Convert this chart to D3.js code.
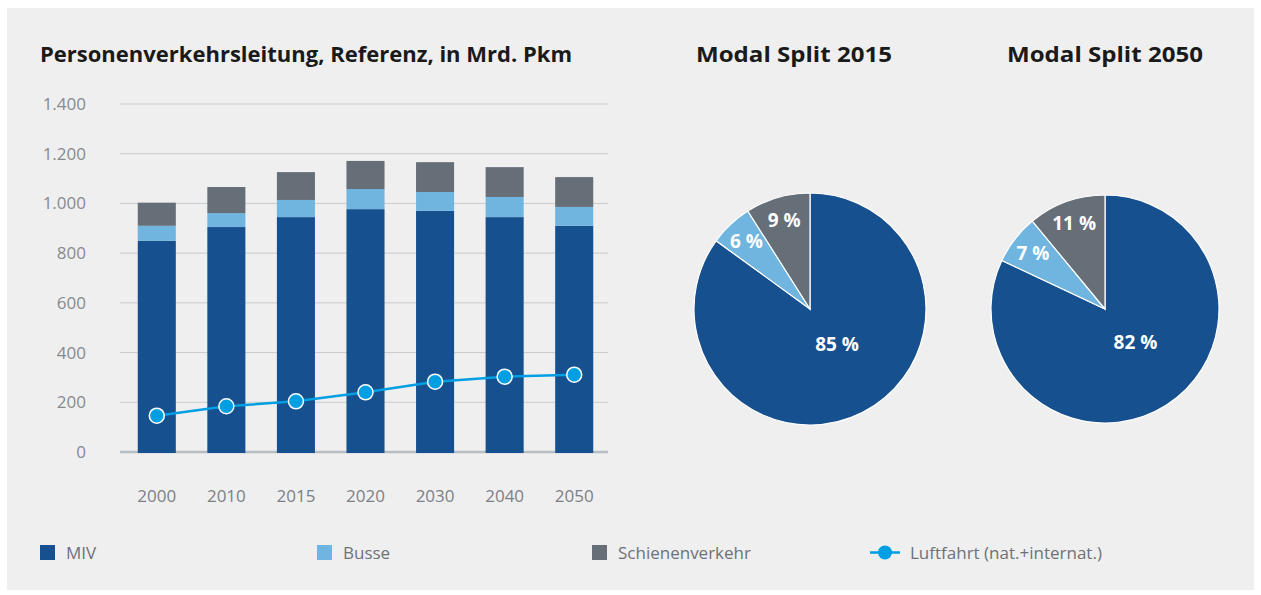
<!DOCTYPE html>
<html>
<head>
<meta charset="utf-8">
<script src="https://cdn.jsdelivr.net/npm/d3@7"></script>
<style>
  body { margin: 0; background: #ffffff; }
  svg text { font-family: "Open Sans", "Noto Sans", sans-serif; }
</style>
</head>
<body>
<div id="chart"></div>
<script>

    const WIDTH = 1261;
    const HEIGHT = 595;

    // data
    const years = ["2000", "2010", "2015", "2020", "2030", "2040", "2050"];
    const miv = [850, 905, 945, 977, 970, 945, 910];
    const busse = [60, 56, 69, 81, 76, 81, 76];
    const schiene = [93, 105, 112, 113, 120, 120, 120];
    const luftfahrt = [146, 184, 204, 240, 283, 303, 311];
    const yTicks = [0, 200, 400, 600, 800, 1000, 1200, 1400];

    const pieCategories = ["MIV", "Busse", "Schienenverkehr"];
    const split2015 = [85, 6, 9];
    const split2050 = [82, 7, 11];

    const seriesNames = ["MIV", "Busse", "Schienenverkehr", "Luftfahrt (nat.+internat.)"];
    const COLOR = ["#16508f", "#6fb5e0", "#666e78", "#009fe3"];

    const svg = d3.select("#chart").append("svg")
        .attr("width", WIDTH)
        .attr("height", HEIGHT);

    // grey panel
    svg.append("rect")
        .attr("x", 7).attr("y", 8)
        .attr("width", 1247).attr("height", 582)
        .attr("fill", "#efefef");

    // titles
    svg.append("text")
        .attr("x", 40).attr("y", 62)
        .attr("font-size", 21).attr("font-weight", 700)
        .attr("fill", "#1a1a1a")
        .attr("textLength", 532).attr("lengthAdjust", "spacingAndGlyphs")
        .text("Personenverkehrsleitung, Referenz, in Mrd. Pkm");

    // ---- bar chart ----
    const x = d3.scaleBand()
        .domain(years)
        .range([122, 609])
        .paddingInner(0.453)
        .paddingOuter(0.2265);

    const y = d3.scaleLinear()
        .domain([0, 1400])
        .range([452, 104]);

    // gridlines
    yTicks.forEach(function(t) {
        svg.append("line")
            .attr("x1", 120).attr("x2", 608)
            .attr("y1", y(t)).attr("y2", y(t))
            .attr("stroke", t === 0 ? "#b9bcc0" : "#c9cbce")
            .attr("stroke-width", t === 0 ? 2.5 : 1);
        svg.append("text")
            .attr("x", 86).attr("y", y(t) + 6)
            .attr("text-anchor", "end")
            .attr("font-size", 17)
            .attr("fill", "#868a90")
            .text(d3.format(",")(t).replace(/,/g, "."));
    });

    // stacked bars
    const rows = years.map(function(yr, i) {
        return { year: yr, MIV: miv[i], Busse: busse[i], Schienenverkehr: schiene[i] };
    });
    const stack = d3.stack().keys(pieCategories)(rows);

    stack.forEach(function(layer, k) {
        svg.append("g").selectAll("rect")
            .data(layer)
            .join("rect")
            .attr("x", function(d) { return x(d.data.year); })
            .attr("width", x.bandwidth())
            .attr("y", function(d) { return y(d[1]); })
            .attr("height", function(d) { return y(d[0]) - y(d[1]) + (k === 0 ? 1 : 0); })
            .attr("fill", COLOR[k]);
    });

    // year labels
    years.forEach(function(yr) {
        svg.append("text")
            .attr("x", x(yr) + x.bandwidth() / 2)
            .attr("y", 502)
            .attr("text-anchor", "middle")
            .attr("font-size", 17)
            .attr("fill", "#7c8087")
            .text(yr);
    });

    // Luftfahrt line
    const line = d3.line()
        .x(function(d, i) { return x(years[i]) + x.bandwidth() / 2; })
        .y(function(d) { return y(d); });

    svg.append("path")
        .datum(luftfahrt)
        .attr("d", line)
        .attr("fill", "none")
        .attr("stroke", COLOR[3])
        .attr("stroke-width", 2.5);

    svg.append("g").selectAll("circle")
        .data(luftfahrt)
        .join("circle")
        .attr("cx", function(d, i) { return x(years[i]) + x.bandwidth() / 2; })
        .attr("cy", function(d) { return y(d); })
        .attr("r", 7.5)
        .attr("fill", COLOR[3])
        .attr("stroke", "#ffffff")
        .attr("stroke-width", 1.5);

    // ---- pies ----
    const pie = d3.pie().sort(null).value(function(d) { return d; });

    function drawPie(values, cx, cy, R, titleX, title) {
        const arc = d3.arc().innerRadius(0).outerRadius(R);
        const labelArc = d3.arc().innerRadius(R * 0.6).outerRadius(R * 1.0);
        const bigLabelArc = d3.arc().innerRadius(0).outerRadius(R * 0.8);

        svg.append("text")
            .attr("x", titleX).attr("y", 62)
            .attr("text-anchor", "middle")
            .attr("font-size", 21).attr("font-weight", 700)
            .attr("fill", "#1a1a1a")
            .attr("textLength", 196).attr("lengthAdjust", "spacingAndGlyphs")
            .text(title);

        const g = svg.append("g").attr("transform", "translate(" + cx + "," + cy + ")");
        const arcs = pie(values);

        g.selectAll("path")
            .data(arcs)
            .join("path")
            .attr("d", arc)
            .attr("fill", function(d, i) { return COLOR[i]; })
            .attr("stroke", "#ffffff")
            .attr("stroke-width", 1.2);

        g.selectAll("text")
            .data(arcs)
            .join("text")
            .attr("transform", function(d, i) {
                const c = i === 0 ? bigLabelArc.centroid(d) : labelArc.centroid(d);
                const dx = i === 0 ? 6 : 0;
                const dy = i === 0 ? 1 : 7;
                return "translate(" + (c[0] + dx) + "," + (c[1] + dy) + ")";
            })
            .attr("text-anchor", "middle")
            .attr("font-size", 19).attr("font-weight", 700)
            .attr("fill", "#ffffff")
            .text(function(d) { return d.data + " %"; });
    }

    drawPie(split2015, 810, 309, 116, 794, "Modal Split 2015");
    drawPie(split2050, 1105, 309, 114, 1105, "Modal Split 2050");

    // ---- legend ----
    const legendX = [40, 317, 592, 870];
    seriesNames.forEach(function(name, i) {
        if (i < 3) {
            svg.append("rect")
                .attr("x", legendX[i]).attr("y", 545)
                .attr("width", 15).attr("height", 15)
                .attr("fill", COLOR[i]);
        } else {
            svg.append("line")
                .attr("x1", legendX[i]).attr("x2", legendX[i] + 30)
                .attr("y1", 552.5).attr("y2", 552.5)
                .attr("stroke", COLOR[i]).attr("stroke-width", 2.5);
            svg.append("circle")
                .attr("cx", legendX[i] + 15).attr("cy", 552.5)
                .attr("r", 7)
                .attr("fill", COLOR[i]);
        }
        svg.append("text")
            .attr("x", legendX[i] + (i < 3 ? 26 : 40))
            .attr("y", 559)
            .attr("font-size", 17)
            .attr("fill", "#6d7279")
            .text(name);
    });

</script>
</body>
</html>
